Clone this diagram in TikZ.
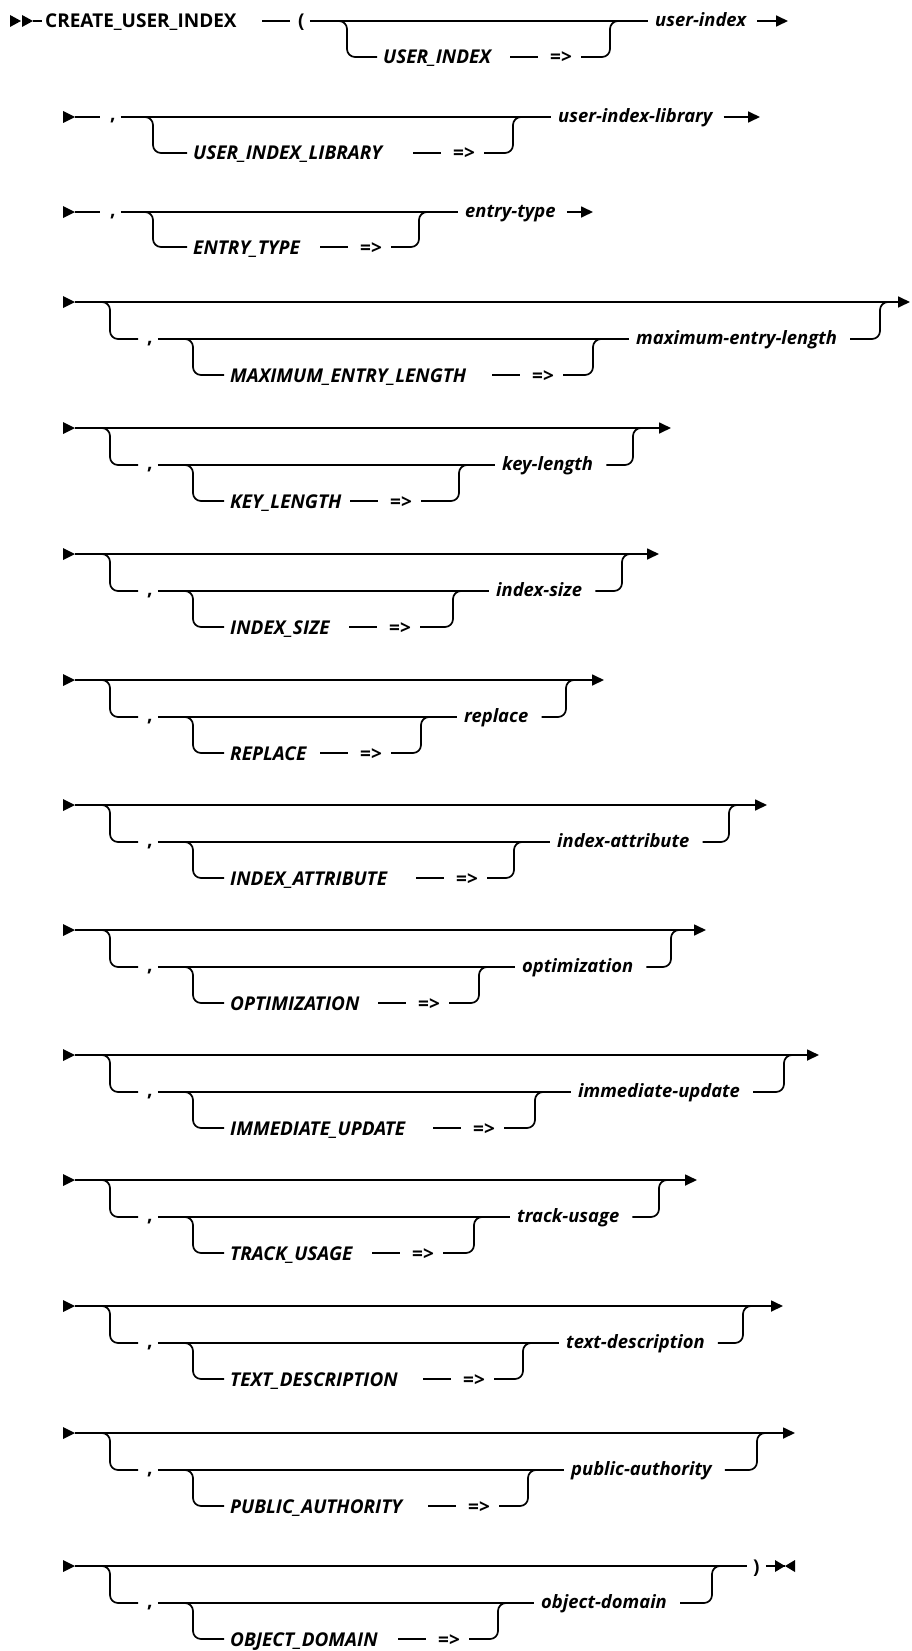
\documentclass[tikz,border=0pt]{standalone}
\usepackage{fontspec}
\setmainfont{Open Sans}
\usetikzlibrary{arrows.meta}

\newcommand{\railfont}{\fontsize{19}{23}\bfseries}
\newcommand{\varfont}{\fontsize{18.4}{22}\bfseries}

\tikzset{
  rail/.style={line width=1.7pt},
  railbend/.style={rail, rounded corners=8pt},
  railend/.style={rail, -{Triangle[length=12pt,width=11pt]}},
  sym/.style={inner sep=0pt, anchor=west, text height=14pt, text depth=0pt, font=\railfont},
  kwd/.style={sym, font=\railfont\itshape},
  var/.style={inner sep=0pt, anchor=west, text height=11pt, text depth=0pt, font=\varfont\itshape},
  comma/.style={inner sep=0pt, anchor=west, text height=8pt, text depth=0pt, font=\railfont},
}

\begin{document}
\begin{tikzpicture}[x=1pt, y=-1pt]
  \useasboundingbox (0,0) rectangle (911,1651);

  % Row 1: CREATE_USER_INDEX ( [USER_INDEX =>] user-index
  \fill (10,15) -- (21,21) -- (10,27) -- cycle;
  \fill (22,15) -- (33,21) -- (22,27) -- cycle;
  \node[sym] (create) at (45,21) {CREATE\_USER\_INDEX};
  \node[sym] (lp) at (298,21) {(};
  \node[kwd] (kw1) at (383,57) {USER\_INDEX};
  \node[sym] (eq1) at (550,57) {=>};
  \node[var] (arg1) at (655,21) {user-index};
  \coordinate (e1) at (788,21);
  \draw[rail] (33,21) -- ([xshift=-3pt]create.west);
  \draw[rail] ([xshift=-36pt]lp.west) -- ([xshift=-8pt]lp.west);
  \draw[rail] ([xshift=5pt]lp.east) -- ([xshift=-7pt]arg1.west);
  \draw[railbend] (337,21) -- (347,21) -- (347,57) -- ([xshift=-6pt]kw1.west);
  \draw[rail] ([xshift=-40pt]eq1.west) -- ([xshift=-12pt]eq1.west);
  \draw[railbend] ([xshift=9pt]eq1.east) -- (610,57) -- (610,21) -- (620,21);
  \draw[railend] ([xshift=11pt]arg1.east) -- (e1);

  % Row 2: , [USER_INDEX_LIBRARY =>] user-index-library
  \fill (63,111) -- (75,117) -- (63,123) -- cycle;
  \node[comma] (cm2) at (110,117) {,};
  \node[kwd] (kw2) at (193,153) {USER\_INDEX\_LIBRARY};
  \node[sym] (eq2) at (453,153) {=>};
  \node[var] (arg2) at (558,117) {user-index-library};
  \coordinate (e2) at (760,117);
  \draw[rail] (75,117) -- ([xshift=-10pt]cm2.west);
  \draw[rail] ([xshift=5pt]cm2.east) -- ([xshift=-7pt]arg2.west);
  \draw[railbend] (143,117) -- (153,117) -- (153,153) -- ([xshift=-6pt]kw2.west);
  \draw[rail] ([xshift=-40pt]eq2.west) -- ([xshift=-12pt]eq2.west);
  \draw[railbend] ([xshift=9pt]eq2.east) -- (513,153) -- (513,117) -- (523,117);
  \draw[railend] ([xshift=11pt]arg2.east) -- (e2);

  % Row 3: , [ENTRY_TYPE =>] entry-type
  \fill (63,206) -- (75,212) -- (63,218) -- cycle;
  \node[comma] (cm3) at (110,212) {,};
  \node[kwd] (kw3) at (193,247) {ENTRY\_TYPE};
  \node[sym] (eq3) at (360,247) {=>};
  \node[var] (arg3) at (465,212) {entry-type};
  \coordinate (e3) at (593,212);
  \draw[rail] (75,212) -- ([xshift=-10pt]cm3.west);
  \draw[rail] ([xshift=5pt]cm3.east) -- ([xshift=-7pt]arg3.west);
  \draw[railbend] (143,212) -- (153,212) -- (153,247) -- ([xshift=-6pt]kw3.west);
  \draw[rail] ([xshift=-40pt]eq3.west) -- ([xshift=-12pt]eq3.west);
  \draw[railbend] ([xshift=9pt]eq3.east) -- (419,247) -- (419,212) -- (429,212);
  \draw[railend] ([xshift=11pt]arg3.east) -- (e3);

  % Optional rows: [ , [KEYWORD =>] value ]
  \foreach \r/\y/\kw/\arg/\eq/\ua/\ub/\ex/\tip in {
      4/302/MAXIMUM\_ENTRY\_LENGTH/maximum-entry-length/532/593/880/910/railend,
      5/428/KEY\_LENGTH/key-length/390/459/633/671/railend,
      6/554/INDEX\_SIZE/index-size/389/453/622/659/railend,
      7/680/REPLACE/replace/360/421/566/604/railend,
      8/805/INDEX\_ATTRIBUTE/index-attribute/456/514/729/767/railend,
      9/930/OPTIMIZATION/optimization/418/479/671/706/railend,
      10/1055/IMMEDIATE\_UPDATE/immediate-update/473/535/784/819/railend,
      11/1180/TRACK\_USAGE/track-usage/412/474/659/697/railend,
      12/1306/TEXT\_DESCRIPTION/text-description/463/523/743/783/railend,
      13/1433/PUBLIC\_AUTHORITY/public-authority/468/528/757/795/railend,
      14/1566/OBJECT\_DOMAIN/object-domain/438/498/712/747/rail} {
    \fill (63,\y-6) -- (75,\y) -- (63,\y+6) -- cycle;
    \coordinate (s\r) at (75,\y);
    \coordinate (e\r) at (\ex,\y);
    \node[comma] (cm\r) at (147,\y+37) {,};
    \node[kwd] (kw\r) at (230,\y+73) {\kw};
    \node[sym] (eq\r) at (\eq,\y+73) {=>};
    \node[var] (arg\r) at (\ua+43,\y+37) {\arg};
    \draw[\tip] (s\r) -- (e\r);
    \draw[railbend] (100,\y) -- (110,\y) -- (110,\y+37) -- ([xshift=-9pt]cm\r.west);
    \draw[rail] ([xshift=5pt]cm\r.east) -- ([xshift=-7pt]arg\r.west);
    \draw[railbend] (183,\y+37) -- (193,\y+37) -- (193,\y+73) -- ([xshift=-6pt]kw\r.west);
    \draw[rail] ([xshift=-40pt]eq\r.west) -- ([xshift=-12pt]eq\r.west);
    \draw[railbend] ([xshift=9pt]eq\r.east) -- (\ua,\y+73) -- (\ua,\y+37) -- (\ua+10,\y+37);
    \draw[railbend] ([xshift=13pt]arg\r.east) -- (\ub,\y+37) -- (\ub,\y) -- (\ub+10,\y);
  }

  % End of statement: ) and end mark
  \node[sym] (rp) at (753,1566) {)};
  \coordinate (stop) at (785,1566);
  \draw[rail] ([xshift=6pt]rp.east) -- (stop);
  \fill (775,1560) -- (stop) -- (775,1572) -- cycle;
  \fill (795,1560) -- (stop) -- (795,1572) -- cycle;
\end{tikzpicture}
\end{document}
